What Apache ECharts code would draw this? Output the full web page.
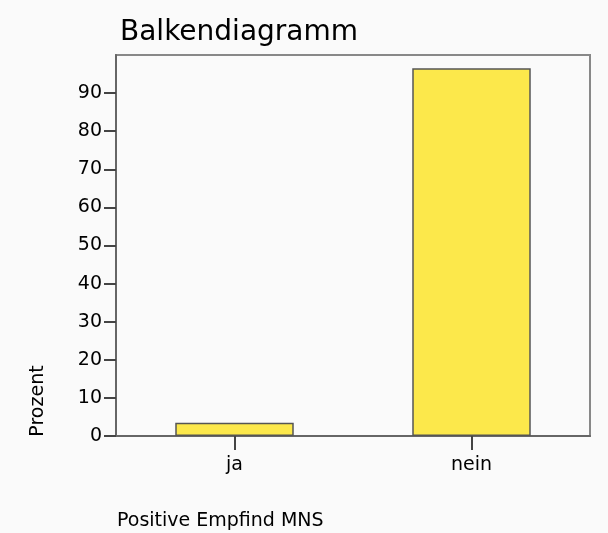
<!DOCTYPE html>
<html>
<head>
<meta charset="utf-8">
<script src="https://cdn.jsdelivr.net/npm/echarts@6/dist/echarts.min.js"></script>
<style>
  html, body { margin: 0; padding: 0; background: #ffffff; }
  #chart { width: 608px; height: 533px; }
</style>
</head>
<body>
<div id="chart"></div>
<script>
var categories = ['ja', 'nein'];
var percentValues = [3.5, 96.5];
var yTicks = [0, 10, 20, 30, 40, 50, 60, 70, 80, 90];

var chart = echarts.init(document.getElementById('chart'));
var font = 'Tahoma, "DejaVu Sans", sans-serif';

var option = {
    backgroundColor: '#fafafa',
    animation: false,
    title: {
        text: 'Balkendiagramm',
        left: 115,
        top: 14,
        textStyle: { fontFamily: font, fontSize: 28, fontWeight: 'normal', color: '#000' }
    },
    grid: {
        left: 116, right: 18, top: 55, bottom: 97,
        show: true,
        borderColor: '#888',
        borderWidth: 2
    },
    xAxis: {
        type: 'category',
        data: categories,
        axisLine: { lineStyle: { color: '#666', width: 2 } },
        axisTick: { show: true, alignWithLabel: true, interval: 0, length: 14, lineStyle: { color: '#444', width: 2 } },
        axisLabel: { fontFamily: font, fontSize: 19, color: '#000', margin: 20 },
        splitLine: { show: false }
    },
    yAxis: {
        type: 'value',
        min: 0,
        max: 100,
        interval: 10,
        axisLine: { show: true, lineStyle: { color: '#666', width: 2 } },
        axisTick: { show: true, length: 12, customValues: yTicks, lineStyle: { color: '#444', width: 2 } },
        axisLabel: { fontFamily: font, fontSize: 19, color: '#000', margin: 14, customValues: yTicks },
        splitLine: { show: false }
    },
    graphic: [
        {
            type: 'text',
            left: 117,
            top: 512,
            style: { text: 'Positive Empfind MNS', fontFamily: font, fontSize: 19, fill: '#000' }
        },
        {
            type: 'text',
            x: 38,
            y: 401,
            rotation: Math.PI / 2,
            style: { text: 'Prozent', fontFamily: font, fontSize: 19, fill: '#000', align: 'center', verticalAlign: 'middle' }
        }
    ],
    series: [
        {
            type: 'bar',
            data: percentValues,
            barWidth: '50%',
            itemStyle: { color: '#fce84b', borderColor: '#555', borderWidth: 1.5 }
        }
    ]
};

chart.setOption(option);
</script>
</body>
</html>
